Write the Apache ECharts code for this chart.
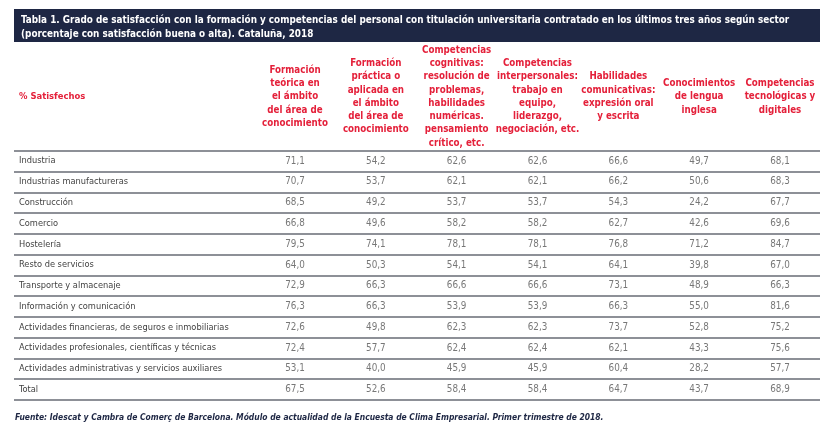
<!DOCTYPE html>
<html>
<head>
<meta charset="utf-8">
<script src="https://cdn.jsdelivr.net/npm/echarts@6/dist/echarts.min.js"></script>
<style>
  html, body { margin: 0; padding: 0; background: #fff; }
  #main { width: 823px; height: 433px; }
</style>
</head>
<body>
<div id="main"></div>
<script>
// filas (sectores)
var sectores = ['Industria', 'Industrias manufactureras', 'Construcción', 'Comercio', 'Hostelería',
  'Resto de servicios', 'Transporte y almacenaje', 'Información y comunicación',
  'Actividades financieras, de seguros e inmobiliarias', 'Actividades profesionales, científicas y técnicas',
  'Actividades administrativas y servicios auxiliares', 'Total'];

// cabeceras de columna
var columnas = [
  'Formación\nteórica en\nel ámbito\ndel área de\nconocimiento',
  'Formación\npráctica o\naplicada en\nel ámbito\ndel área de\nconocimiento',
  'Competencias\ncognitivas:\nresolución de\nproblemas,\nhabilidades\nnuméricas.\npensamiento\ncrítico, etc.',
  'Competencias\ninterpersonales:\ntrabajo en\nequipo,\nliderazgo,\nnegociación, etc.',
  'Habilidades\ncomunicativas:\nexpresión oral\ny escrita',
  'Conocimientos\nde lengua\ninglesa',
  'Competencias\ntecnológicas y\ndigitales'
];

// valores por columna (% satisfechos)
var teorica = [71.1, 70.7, 68.5, 66.8, 79.5, 64.0, 72.9, 76.3, 72.6, 72.4, 53.1, 67.5];
var practica = [54.2, 53.7, 49.2, 49.6, 74.1, 50.3, 66.3, 66.3, 49.8, 57.7, 40.0, 52.6];
var cognitivas = [62.6, 62.1, 53.7, 58.2, 78.1, 54.1, 66.6, 53.9, 62.3, 62.4, 45.9, 58.4];
var interpersonales = [62.6, 62.1, 53.7, 58.2, 78.1, 54.1, 66.6, 53.9, 62.3, 62.4, 45.9, 58.4];
var comunicativas = [66.6, 66.2, 54.3, 62.7, 76.8, 64.1, 73.1, 66.3, 73.7, 62.1, 60.4, 64.7];
var ingles = [49.7, 50.6, 24.2, 42.6, 71.2, 39.8, 48.9, 55.0, 52.8, 43.3, 28.2, 43.7];
var digitales = [68.1, 68.3, 67.7, 69.6, 84.7, 67.0, 66.3, 81.6, 75.2, 75.6, 57.7, 68.9];

var valores = [teorica, practica, cognitivas, interpersonales, comunicativas, ingles, digitales];

// fuente estrecha (el original usa una condensada)
var FONT = '"DejaVu Sans Condensed", "DejaVu Sans", sans-serif';
var ANCHO = 'condensed';
var ROJO = '#e4203a';

var myChart = echarts.init(document.getElementById('main'));

var series = valores.map(function (col, c) {
  return {
    type: 'scatter',
    xAxisIndex: 1,
    yAxisIndex: 1,
    symbolSize: 0,
    silent: true,
    label: {
      show: true,
      position: 'inside',
      color: '#555',
      fontSize: 9.8,
      fontStyle: ANCHO,
      fontFamily: FONT,
      formatter: function (p) {
        return p.value[2].toFixed(1).replace('.', ','); // coma decimal
      }
    },
    data: col.map(function (v, r) {
      return [columnas[c], sectores[r], v];
    })
  };
});

var option = {
  animation: false,
  backgroundColor: '#fff',
  graphic: [{
    type: 'rect',
    shape: { x: 14, y: 9, width: 806, height: 33 },
    style: { fill: '#1e2744' },
    z: -1
  }, {
    type: 'text',
    x: 19,
    y: 97,
    style: {
      text: '% Satisfechos',
      fill: ROJO,
      font: ANCHO + ' bold 9.4px ' + FONT,
      verticalAlign: 'middle'
    }
  }],
  title: [{
    text: 'Tabla 1. Grado de satisfacción con la formación y competencias del personal con titulación universitaria contratado en los últimos tres años según sector\n(porcentaje con satisfacción buena o alta). Cataluña, 2018',
    left: 16,
    top: 8,
    textStyle: {
      color: '#fff',
      fontSize: 9.85,
      fontWeight: 'bold',
      fontStyle: ANCHO,
      fontFamily: FONT,
      lineHeight: 14
    }
  }, {
    text: 'Fuente: Idescat y Cambra de Comerç de Barcelona. Módulo de actualidad de la Encuesta de Clima Empresarial. Primer trimestre de 2018.',
    left: 10,
    top: 406.5,
    textStyle: {
      color: '#1e2744',
      fontSize: 8.45,
      fontWeight: 'bold',
      fontStyle: 'italic ' + ANCHO,
      fontFamily: FONT,
      lineHeight: 12
    }
  }],
  grid: [{
    left: 14, right: 3, top: 150.7, bottom: 33
  }, {
    left: 254.6, right: 2.6, top: 150.7, bottom: 33
  }],
  xAxis: [{
    gridIndex: 0,
    type: 'value',
    show: false
  }, {
    gridIndex: 1,
    type: 'category',
    position: 'top',
    data: columnas,
    axisLine: { show: false },
    axisTick: { show: false },
    axisLabel: {
      interval: 0,
      margin: 54,
      verticalAlign: 'middle',
      color: ROJO,
      fontWeight: 'bold',
      fontStyle: ANCHO,
      fontSize: 9.7,
      lineHeight: 13.3,
      fontFamily: FONT
    }
  }],
  yAxis: [{
    gridIndex: 0,
    type: 'category',
    inverse: true,
    data: sectores,
    axisLine: { show: false },
    axisTick: { show: false },
    axisLabel: {
      inside: true,
      margin: 5,
      color: '#3f3f3f',
      fontSize: 9.2,
      fontStyle: ANCHO,
      fontFamily: FONT
    },
    splitLine: {
      show: true,
      lineStyle: { color: '#676b75', width: 1.5 }
    }
  }, {
    gridIndex: 1,
    type: 'category',
    inverse: true,
    data: sectores,
    show: false
  }],
  series: series
};

myChart.setOption(option);
window.addEventListener('resize', function () {
  myChart.resize();
});
</script>
</body>
</html>
